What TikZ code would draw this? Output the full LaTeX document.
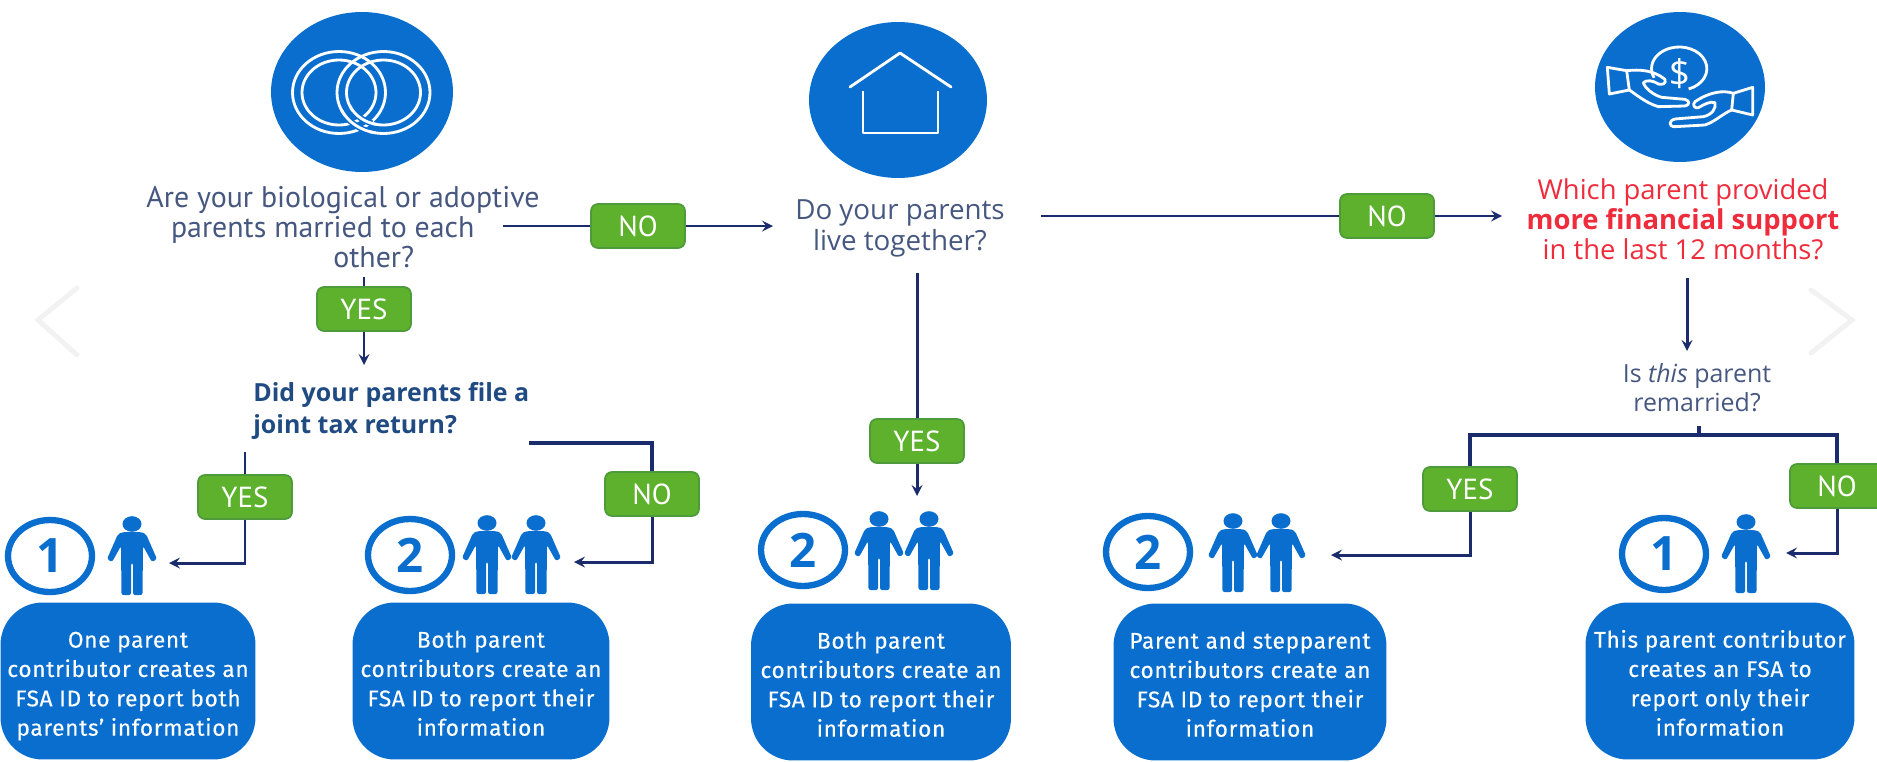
\documentclass[tikz,border=0pt]{standalone}
\usepackage{fontspec}
\setmainfont{Open Sans}
\newfontfamily\narrowfont{PT Sans}
\newfontfamily\boxfont{Fira Sans}[LetterSpace=3,FakeBold=0.25]
\usetikzlibrary{shapes,arrows,calc,positioning}

\definecolor{fsablue}{HTML}{0A6ECF}
\definecolor{fsagreen}{HTML}{5DB12D}
\definecolor{fsaedge}{HTML}{4F9A3A}
\definecolor{fsanavy}{HTML}{1A2C6B}
\definecolor{fsatext}{HTML}{465780}
\definecolor{fsajoint}{HTML}{1F4A82}
\definecolor{fsared}{HTML}{EE2C3C}

\newcommand{\resulttop}{\rule{0pt}{17pt}}
\newcommand{\resultend}{\rule[-4.9pt]{0pt}{1pt}}

\tikzstyle{arrow}=[draw, fsanavy, line width=1.7pt, -stealth]
\tikzstyle{link}=[draw, fsanavy, line width=1.7pt]
\tikzstyle{linkthick}=[draw, fsanavy, line width=2.4pt]
\tikzstyle{answer}=[draw=fsaedge, fill=fsagreen, line width=1pt, rounded corners=4pt, minimum width=1.88cm, minimum height=0.88cm, inner sep=0pt, text=white, font=\fontsize{16.5}{18}\narrowfont]
\tikzstyle{question}=[text=fsatext, align=center, inner sep=0pt, font=\fontsize{15.6}{17}\selectfont]
\tikzstyle{icon}=[ellipse, fill=fsablue, inner sep=0pt]
\tikzstyle{badge}=[ellipse, draw=fsablue, line width=3.6pt, minimum width=1.68cm, minimum height=1.44cm, inner sep=0pt, text=fsablue, font=\fontsize{27}{30}\selectfont\bfseries]
\tikzstyle{result}=[fill=fsablue, rounded corners=24pt, minimum height=3.14cm, inner sep=0pt, align=center, text=white, font=\fontsize{12.9}{16.7}\boxfont]
\tikzstyle{iconline}=[draw=white, line width=1.6pt, line join=round]
\tikzstyle{chevron}=[draw=black!5, line width=2.8pt, line cap=round]

\tikzset{
person/.pic={
\fill[fsablue] (0,8) ellipse (9.5 and 7.8);
\fill[fsablue, rounded corners=1.2pt] (-9,16)--(9,16)--(14,18)--(25,43)--(20,46)--(11,30)--(10.5,79)--(1,79)--(1,47)--(-1,47)--(-1,79)--(-10.5,79)--(-11,30)--(-20,46)--(-25,43)--(-14,18)--cycle;
}}

\begin{document}
\begin{tikzpicture}[x=0.02cm,y=-0.02cm]
\clip (0,0) rectangle (1877,761);

% chevrons of the slider
\draw [chevron] (77,288) -- (38,320) -- (77,355);
\draw [chevron] (1811,290) -- (1852,320) -- (1811,353);

% top icons
\node (rings) [icon, minimum width=3.64cm, minimum height=3.2cm] at (362,92) {};
\node (house) [icon, minimum width=3.56cm, minimum height=3.12cm] at (898,100) {};
\node (money) [icon, minimum width=3.4cm, minimum height=3cm] at (1680,87) {};

\foreach \cx in {383.5,339} {
\draw [iconline] (\cx,92.5) ellipse (46.5 and 41);
\draw [iconline] (\cx,92.5) ellipse (37 and 32.5);
}
\foreach \rx/\ry in {46.5/41,37/32.5} {
\draw [draw=fsablue, line width=3.4pt] (383.5,92.5) ++(108:{\rx} and {\ry}) arc[start angle=108,end angle=145,x radius=\rx,y radius=\ry];
}
\foreach \rx/\ry in {46.5/41,37/32.5} {
\draw [iconline] (383.5,92.5) ++(100:{\rx} and {\ry}) arc[start angle=100,end angle=155,x radius=\rx,y radius=\ry];
}

\draw [iconline, line cap=round] (850,87) -- (900,53) -- (951,87);
\draw [iconline] (863,91) -- (863,133) -- (938,133) -- (938,91);

\begin{scope}[shift={(1590,10)},x=0.00667cm,y=-0.00667cm]
\draw [iconline] (296,237) arc[start angle=70,end angle=-205,x radius=83,y radius=65];
\draw [iconline] (110,182) -- (52,172) -- (58,252) -- (118,240) -- cycle;
\draw [iconline] (110,182) .. controls (150,178) and (190,180) .. (225,208) .. controls (230,222) and (215,225) .. (205,222) .. controls (190,212) and (170,208) .. (160,218) .. controls (165,235) and (190,255) .. (215,262) -- (285,268) .. controls (300,272) and (300,285) .. (285,288) -- (205,290) .. controls (170,280) and (140,255) .. (118,240);
\draw [iconline] (430,250) -- (488,232) -- (488,315) -- (425,300) -- cycle;
\draw [iconline] (430,250) .. controls (400,240) and (360,245) .. (315,275) .. controls (305,285) and (315,297) .. (325,293) .. controls (340,285) and (360,272) .. (375,278) .. controls (380,295) and (365,315) .. (340,320) -- (255,327) .. controls (235,332) and (235,350) .. (255,350) -- (345,345) .. controls (375,335) and (400,310) .. (425,300);
\node (dollar) [text=white, inner sep=0pt, font=\fontsize{21}{22}\selectfont] at (268,192) {\$};
\end{scope}

% questions
\node (married) [question, font=\fontsize{17}{17}\narrowfont] at (343,227) {Are your biological or adoptive\\parents married to each\hspace*{23pt}\mbox{}\\\hspace*{35pt}other?};
\node (together) [question, font=\fontsize{15.8}{17.6}\selectfont] at (900,228) {Do your parents\\live together?};
\node (support) [question, text=fsared] at (1683,219) {Which parent provided\\\textbf{more financial support}\\in the last 12 months?};
\node (remarried) [question, font=\fontsize{14.2}{16.5}\selectfont] at (1697,388) {Is \textit{this} parent\\remarried?};
\node (joint) [inner sep=0pt, align=left, anchor=west, text=fsajoint, font=\fontsize{14.2}{18.6}\selectfont\bfseries] at (253,411) {Did your parents file a\\joint tax return?};

% answers
\node (yes1) [answer] at (364,309) {YES};
\node (no1) [answer] at (638,226) {NO};
\node (no2) [answer] at (1387,216) {NO};
\node (yes2) [answer] at (917,441) {YES};
\node (yes3) [answer] at (245,497) {YES};
\node (no3) [answer] at (652,494) {NO};
\node (yes4) [answer] at (1470,489) {YES};
\node (no4) [answer] at (1837,486) {NO};

% count of contributors
\node (count1) [badge] at (50,556) {1};
\node (count2) [badge] at (410,555) {2};
\node (count3) [badge] at (803,550) {2};
\node (count4) [badge] at (1148,552) {2};
\node (count5) [badge] at (1664,554) {1};

\pic (person1) at (132,516) {person};
\pic (person2) at (487,515) {person};
\pic (person3) at (536,515) {person};
\pic (person4) at (879,511) {person};
\pic (person5) at (929,511) {person};
\pic (person6) at (1233,513) {person};
\pic (person7) at (1281,513) {person};
\pic (person8) at (1746,514) {person};

% results
\node (result1) [result, minimum width=5.1cm] at (128,681) {\resulttop One parent\\contributor creates an\\FSA ID to report both\\parents’ information\resultend};
\node (result2) [result, minimum width=5.14cm] at (481,681) {\resulttop Both parent\\contributors create an\\FSA ID to report their\\information\resultend};
\node (result3) [result, minimum width=5.2cm] at (881,682) {\resulttop Both parent\\contributors create an\\FSA ID to report their\\information\resultend};
\node (result4) [result, minimum width=5.46cm] at (1250,682) {\resulttop Parent and stepparent\\contributors create an\\FSA ID to report their\\information\resultend};
\node (result5) [result, minimum width=5.38cm] at (1720,681) {\resulttop This parent contributor\\creates an FSA to\\report only their\\information\resultend};

% free ends of the connectors
\coordinate (marriedout) at (503,226);
\coordinate (togetherin) at (773,226);
\coordinate (marriedyes) at (364,277);
\coordinate (jointin) at (364,365);
\coordinate (jointyes) at (245,452);
\coordinate (jointno) at (529,443);
\coordinate (jointcorner) at (652,443);
\coordinate (togetherout) at (1041,216);
\coordinate (supportin) at (1502,216);
\coordinate (togetherdown) at (917,273);
\coordinate (person45in) at (917,496);
\coordinate (supportout) at (1687,278);
\coordinate (remarriedin) at (1687,351);
\coordinate (remarriedout) at (1699,426);
\coordinate (remarriedbar) at (1699,435);
\coordinate (barleft) at (1470,435);
\coordinate (barright) at (1837,435);
\coordinate (person1in) at (169,563);
\coordinate (person23in) at (574,562);
\coordinate (person67in) at (1331,555);
\coordinate (person8in) at (1786,553);

\draw [link] (marriedout) -- (no1);
\draw [arrow] (no1) -- (togetherin);
\draw [link] (marriedyes) -- (yes1);
\draw [arrow] (yes1) -- (jointin);
\draw [link] (jointyes) -- (yes3);
\draw [arrow] (yes3) |- (person1in);
\draw [linkthick] (jointno) -- (jointcorner) -- (no3);
\draw [arrow] (no3) |- (person23in);
\draw [link] (togetherout) -- (no2);
\draw [arrow] (no2) -- (supportin);
\draw [link] (togetherdown) -- (yes2);
\draw [arrow] (yes2) -- (person45in);
\draw [arrow] (supportout) -- (remarriedin);
\draw [linkthick] (remarriedout) -- (remarriedbar);
\draw [linkthick] (yes4) -- (barleft) -- (barright) -- (no4);
\draw [arrow] (yes4) |- (person67in);
\draw [arrow] (no4) |- (person8in);

\end{tikzpicture}
\end{document}
